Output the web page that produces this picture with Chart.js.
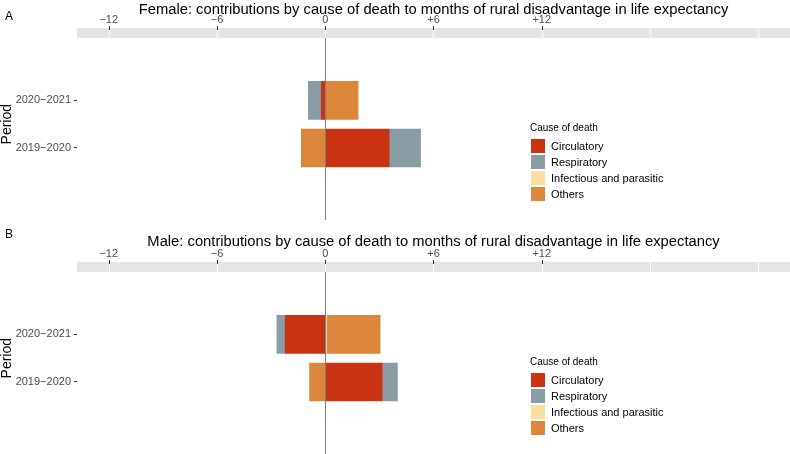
<!DOCTYPE html>
<html>
<head>
<meta charset="utf-8">
<script src="https://cdn.jsdelivr.net/npm/chart.js@4.4.1/dist/chart.umd.min.js"></script>
<style>
  body { margin: 0; background: #fff; font-family: "Liberation Sans", Arial, sans-serif; }
  #wrap { position: relative; width: 790px; height: 454px; overflow: hidden; }
  .panel { position: absolute; left: 0; width: 790px; height: 220px; }
  .title { position: absolute; left: 77px; width: 713px; text-align: center; font-size: 14.75px; line-height: 18px; color: #000; white-space: nowrap; }
  .tag { position: absolute; left: 5px; font-size: 12px; line-height: 14px; color: #000; }
  .leg { position: absolute; left: 530px; color: #000; }
  .leg .lt { position: absolute; left: 0; top: 0; font-size: 10px; line-height: 12px; white-space: nowrap; }
  .leg .key { position: absolute; left: 1px; width: 14px; height: 14px; }
  .leg .lab { position: absolute; left: 21px; font-size: 11px; line-height: 14px; white-space: nowrap; }
</style>
</head>
<body>
<div id="wrap">
  <div class="panel" style="top:0"><canvas id="female" width="790" height="220"></canvas></div>
  <div class="panel" style="top:234px"><canvas id="male" width="790" height="220"></canvas></div>
  <div class="tag" style="top:9px">A</div>
  <div class="tag" style="top:227px">B</div>
  <div class="title" style="top:0px">Female: contributions by cause of death to months of rural disadvantage in life expectancy</div>
  <div class="title" style="top:232px">Male: contributions by cause of death to months of rural disadvantage in life expectancy</div>
  <div class="leg" id="legA" style="top:122px"></div>
  <div class="leg" id="legB" style="top:356px"></div>
</div>
<script>
// data
const periods = ['2020\u22122021', '2019\u22122020'];
const causes = ['Circulatory', 'Respiratory', 'Infectious and parasitic', 'Others'];
const causeColors = ['#C93312', '#899DA4', '#FDDDA0', '#DC863B'];
const xTicks = [-12, -6, 0, 6, 12, 18, 24];
const xTickLabels = ['\u221212', '\u22126', '0', '+6', '+12', '', ''];

const femaleCirculatory = [-0.22, 3.54];
const femaleRespiratory = [-0.72, 1.74];
const femaleInfectious = [0, 0];
const femaleOthers = [1.82, -1.33];

const maleCirculatory = [-2.22, 3.15];
const maleRespiratory = [-0.46, 0.85];
const maleInfectious = [0.08, 0];
const maleOthers = [2.96, -0.87];

const bandPlugin = {
  id: 'band',
  beforeDatasetsDraw(chart) {
    const { ctx, chartArea, scales } = chart;
    const x = scales.x;
    ctx.save();
    ctx.fillStyle = '#e5e5e5';
    ctx.fillRect(chartArea.left, chartArea.top - 10, chartArea.right - chartArea.left, 10);
    ctx.lineWidth = 1;
    xTicks.forEach((v, i) => {
      const px = Math.round(x.getPixelForValue(v)) + 0.5;
      ctx.strokeStyle = '#ffffff';
      ctx.beginPath();
      ctx.moveTo(px, chartArea.top - 10);
      ctx.lineTo(px, chartArea.top);
      ctx.stroke();
      if (xTickLabels[i] !== '') {
        ctx.strokeStyle = '#333333';
        ctx.beginPath();
        ctx.moveTo(px, chartArea.top - 12);
        ctx.lineTo(px, chartArea.top - 8);
        ctx.stroke();
      }
    });
    ctx.restore();
  },
  afterDatasetsDraw(chart) {
    const { ctx, chartArea, scales } = chart;
    const px = Math.round(scales.x.getPixelForValue(0)) + 0.5;
    ctx.save();
    ctx.strokeStyle = '#808080';
    ctx.lineWidth = 1;
    ctx.beginPath();
    ctx.moveTo(px, chartArea.top);
    ctx.lineTo(px, chart.height);
    ctx.stroke();
    ctx.restore();
  }
};

function makePanel(id, series) {
  const datasets = series.map((vals, k) => ({
    label: causes[k],
    data: vals.map((v, i) => ({ x: v, y: i })),
    backgroundColor: causeColors[k],
    borderWidth: 0,
    barThickness: 38
  }));
  return new Chart(document.getElementById(id), {
    type: 'bar',
    data: { datasets: datasets },
    plugins: [bandPlugin],
    options: {
      indexAxis: 'y',
      responsive: false,
      animation: false,
      devicePixelRatio: 1,
      layout: { padding: { top: 14, left: 0, right: 0, bottom: 8 } },
      plugins: { legend: { display: false }, tooltip: { enabled: false } },
      scales: {
        x: {
          type: 'linear',
          position: 'top',
          stacked: true,
          min: -13.76,
          max: 25.76,
          afterFit(scale) { scale.height = 24; },
          afterBuildTicks(scale) { scale.ticks = xTicks.map(v => ({ value: v })); },
          border: { display: false },
          grid: { drawOnChartArea: false, drawTicks: true, tickLength: 10, tickColor: 'rgba(0,0,0,0)' },
          ticks: {
            autoSkip: false,
            maxRotation: 0,
            padding: 1.5,
            color: '#4d4d4d',
            font: { family: '"Liberation Sans", Arial, sans-serif', size: 11 },
            callback: (v, i) => xTickLabels[i]
          }
        },
        y: {
          type: 'linear',
          stacked: true,
          reverse: true,
          offset: false,
          min: -1.3125,
          max: 2.3125,
          afterFit(scale) { scale.width = 77; },
          afterBuildTicks(scale) { scale.ticks = periods.map((p, i) => ({ value: i })); },
          border: { display: false },
          grid: { offset: false, drawOnChartArea: false, drawTicks: true, tickLength: 3, tickColor: '#333333' },
          ticks: {
            padding: 3,
            color: '#4d4d4d',
            font: { family: '"Liberation Sans", Arial, sans-serif', size: 11 },
            callback: (v) => periods[v]
          },
          title: {
            display: true,
            text: 'Period',
            color: '#000',
            padding: 0,
            font: { family: '"Liberation Sans", Arial, sans-serif', size: 14, lineHeight: 1 }
          }
        }
      }
    }
  });
}

function makeLegend(id) {
  const el = document.getElementById(id);
  let html = '<div class="lt">Cause of death</div>';
  causes.forEach((c, i) => {
    const top = 17 + i * 16;
    html += '<div class="key" style="top:' + top + 'px;background:' + causeColors[i] + '"></div>';
    html += '<div class="lab" style="top:' + top + 'px">' + c + '</div>';
  });
  el.innerHTML = html;
}

makePanel('female', [femaleCirculatory, femaleRespiratory, femaleInfectious, femaleOthers]);
makePanel('male', [maleCirculatory, maleRespiratory, maleInfectious, maleOthers]);
makeLegend('legA');
makeLegend('legB');
</script>
</body>
</html>
